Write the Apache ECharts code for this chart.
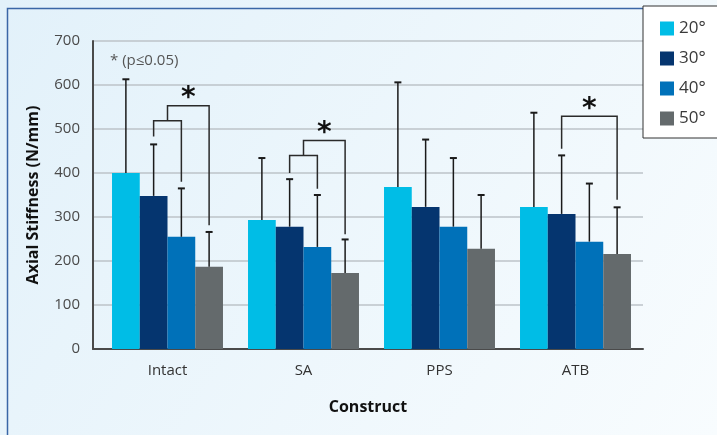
<!DOCTYPE html>
<html><head><meta charset="utf-8">
<script src="https://cdn.jsdelivr.net/npm/echarts@6/dist/echarts.min.js"></script>
<style>html,body{margin:0;padding:0;background:#e8f4fb}#c{width:717px;height:435px}</style>
</head><body><div id="c"></div>
<script>
const categories = ['Intact', 'SA', 'PPS', 'ATB'];
const angles = ['20°', '30°', '40°', '50°'];
const mean20 = [400, 293, 368, 323];
const mean30 = [348, 278, 323, 307];
const mean40 = [255, 232, 278, 244];
const mean50 = [187, 173, 228, 216];
const sd20 = [213, 141, 238, 214];
const sd30 = [117, 108, 153, 133];
const sd40 = [110, 118, 156, 132];
const sd50 = [79, 76, 122, 106];
const yTicks = [0, 100, 200, 300, 400, 500, 600, 700];
// significance brackets: [category, fromSlot, toSlot, barValue, leftLegEnd, rightLegEnd, star]
const brackets = [
  [0, 1, 2, 519, 483, 380, 0],
  [0, 1.5, 3, 553, 519, 281, 1],
  [1, 1, 2, 440, 400, 364, 0],
  [1, 1.5, 3, 474, 440, 261, 1],
  [3, 1, 3, 529, 455, 339, 1]
];
const colors = ['#00bde6', '#05356f', '#0071b9', '#646a6c'];
const means = [mean20, mean30, mean40, mean50];
const sds = [sd20, sd30, sd40, sd50];
const GAP = 0.184;
const FONT = '"Open Sans", "Noto Sans", sans-serif';

const errData = [];
for (let s = 0; s < 4; s++) for (let c = 0; c < categories.length; c++) errData.push([c, s, means[s][c], means[s][c] + sds[s][c]]);

function slotX(api, cat, slot) {
  const c = api.coord([cat, 0])[0];
  const band = api.size([1, 0])[0];
  const bw = band * (1 - GAP) / 4;
  return c + (slot - 1.5) * bw;
}
function errRender(params, api) {
  const cat = api.value(0), slot = api.value(1);
  const x = slotX(api, cat, slot);
  const y0 = api.coord([cat, api.value(2)])[1];
  const y1 = api.coord([cat, api.value(3)])[1];
  return {type: 'group', children: [
    {type: 'line', shape: {x1: x, y1: y0, x2: x, y2: y1}, style: {stroke: '#1a1a1a', lineWidth: 1.5}},
    {type: 'line', shape: {x1: x - 3.5, y1: y1, x2: x + 3.5, y2: y1}, style: {stroke: '#1a1a1a', lineWidth: 2}}
  ]};
}
function brRender(params, api) {
  const cat = api.value(0);
  const xa = slotX(api, cat, api.value(1)), xb = slotX(api, cat, api.value(2));
  const yt = api.coord([cat, api.value(3)])[1];
  const yl = api.coord([cat, api.value(4)])[1];
  const yr = api.coord([cat, api.value(5)])[1];
  const ch = [{type: 'polyline', shape: {points: [[xa, yl], [xa, yt], [xb, yt], [xb, yr]]}, style: {stroke: '#2a2a2a', lineWidth: 1.5, fill: null}}];
  if (api.value(6)) ch.push({type: 'text', style: {text: '*', x: (xa + xb) / 2, y: yt + 7, align: 'center', verticalAlign: 'bottom', font: 'bold 28px "DejaVu Sans", sans-serif', fill: '#111'}});
  return {type: 'group', children: ch};
}

const chart = echarts.init(document.getElementById('c'));
chart.setOption({
  backgroundColor: {type: 'linear', x: 0, y: 0, x2: 1, y2: 1, colorStops: [{offset: 0, color: '#e2f1fa'}, {offset: 1, color: '#f8fcfe'}]},
  animation: false,
  textStyle: {fontFamily: FONT},
  graphic: [{type: 'rect', left: 5, top: 6, shape: {width: 800, height: 800}, style: {fill: null, stroke: '#3a66a6', lineWidth: 1.5}, z: -1}],
  title: {text: '* (p≤0.05)', left: 105, top: 48, textStyle: {fontSize: 15, fontWeight: 'normal', color: '#555', fontFamily: FONT}},
  legend: {
    data: angles, orient: 'vertical', left: 643, top: 6,
    padding: [14, 20, 11, 17], itemWidth: 14, itemHeight: 14, itemGap: 13,
    icon: 'rect', backgroundColor: '#fff', borderColor: '#333', borderWidth: 1,
    textStyle: {fontSize: 17, color: '#3a3a3a', lineHeight: 14, fontFamily: FONT}
  },
  grid: [
    {left: 93, right: 74, top: 41, bottom: 86},
    {left: 99.5, right: 73.5, top: 41, bottom: 86}
  ],
  xAxis: [
    {type: 'category', gridIndex: 0, data: categories, axisLine: {lineStyle: {color: '#4a4a4a', width: 2}}, axisTick: {show: false}, axisLabel: {show: false},
     name: 'Construct', nameLocation: 'middle', nameGap: 50, nameTextStyle: {fontSize: 16, fontWeight: 'bold', color: '#111', fontFamily: FONT}},
    {type: 'category', gridIndex: 1, data: categories, axisLine: {show: false}, axisTick: {show: false},
     axisLabel: {fontSize: 15, color: '#333', margin: 14, fontFamily: FONT}}
  ],
  yAxis: [
    {type: 'value', gridIndex: 0, min: 0, max: 700, interval: 100,
     axisLine: {show: true, lineStyle: {color: '#4a4a4a', width: 2}}, axisTick: {show: false},
     axisLabel: {fontSize: 15, color: '#4a4a4a', margin: 13, fontFamily: FONT, customValues: yTicks},
     splitLine: {lineStyle: {color: '#bcc3c8', width: 1.5}},
     name: 'Axial Stiffness (N/mm)', nameLocation: 'middle', nameGap: 52, nameRotate: 90,
     nameTextStyle: {fontSize: 16, fontWeight: 'bold', color: '#111', fontFamily: FONT}},
    {type: 'value', gridIndex: 1, min: 0, max: 700, interval: 100, show: false}
  ],
  series: [
    ...angles.map((a, i) => ({name: a, type: 'bar', xAxisIndex: 1, yAxisIndex: 1, data: means[i], barGap: '0%', barCategoryGap: (GAP * 100) + '%', itemStyle: {color: colors[i]}, z: 2})),
    {type: 'custom', xAxisIndex: 1, yAxisIndex: 1, data: errData, renderItem: errRender, z: 3, encode: {x: 0, y: 3}},
    {type: 'custom', xAxisIndex: 1, yAxisIndex: 1, data: brackets, renderItem: brRender, z: 3, encode: {x: 0, y: 3}}
  ]
});
</script></body></html>
